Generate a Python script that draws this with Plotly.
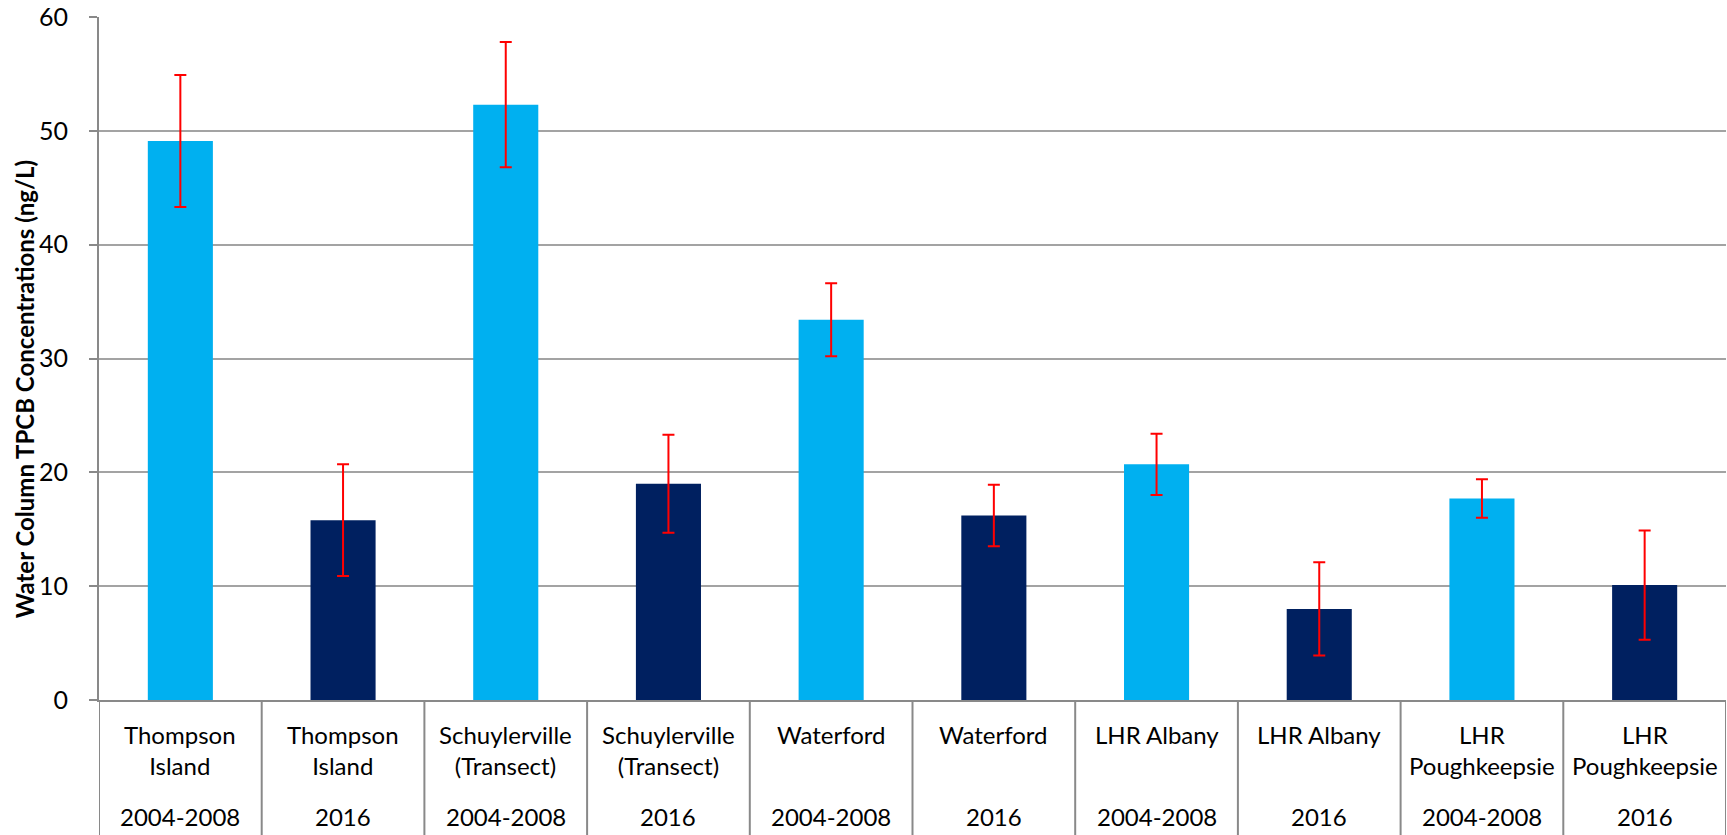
import plotly.graph_objects as go

# Sampling locations and periods for each bar
locations = [
    "Thompson<br>Island", "Thompson<br>Island",
    "Schuylerville<br>(Transect)", "Schuylerville<br>(Transect)",
    "Waterford", "Waterford",
    "LHR Albany", "LHR Albany",
    "LHR<br>Poughkeepsie", "LHR<br>Poughkeepsie",
]
periods = ["2004-2008", "2016"] * 5

# Mean water column TPCB concentrations (ng/L) and error bar half-widths
values = [49.1, 15.8, 52.3, 19.0, 33.4, 16.2, 20.7, 8.0, 17.7, 10.1]
errors = [5.8, 4.9, 5.5, 4.3, 3.2, 2.7, 2.7, 4.1, 1.7, 4.8]

y_ticks = [0, 10, 20, 30, 40, 50, 60]

period_colors = {"2004-2008": "#00B0F0", "2016": "#002060"}
FONT = "Lato, Carlito, Calibri, sans-serif"
AXIS_GREY = "#898989"
GRID_GREY = "#A3A3A3"

x_pos = list(range(len(values)))

fig = go.Figure(
    go.Bar(
        x=x_pos,
        y=values,
        width=0.4,
        marker=dict(color=[period_colors[p] for p in periods], line=dict(width=0)),
        error_y=dict(type="data", array=errors, visible=True,
                     color="#FF0000", thickness=2, width=6),
        showlegend=False,
    )
)

W, H = 1727, 835
M_L, M_R, M_T, M_B = 99, 1, 17, 135
plot_h = H - M_T - M_B

annotations = []
for i, (loc, per) in enumerate(zip(locations, periods)):
    annotations.append(dict(
        x=i, y=0, xref="x", yref="paper", text=loc, showarrow=False,
        xanchor="center", yanchor="top", yshift=-19, borderpad=0,
        font=dict(family=FONT, size=24, color="#000000"),
    ))
    annotations.append(dict(
        x=i, y=0, xref="x", yref="paper", text=per, showarrow=False,
        xanchor="center", yanchor="middle", yshift=-116, borderpad=0,
        font=dict(family=FONT, size=24, color="#000000"),
    ))

# y-axis title
annotations.append(dict(
    x=-75 / (W - M_L - M_R), y=0.455, xref="paper", yref="paper",
    text="<b>Water Column TPCB Concentrations (ng/L)</b>", textangle=-90,
    showarrow=False, xanchor="center", yanchor="middle",
    font=dict(family=FONT, size=24, color="#000000"),
))

# category divider lines below the axis
shapes = []
for i in range(len(values) + 1):
    shapes.append(dict(
        type="line", xref="x", yref="paper",
        x0=i - 0.5, x1=i - 0.5, y0=0, y1=-M_B / plot_h,
        line=dict(color=AXIS_GREY, width=2),
    ))

fig.update_layout(
    width=W, height=H,
    margin=dict(l=M_L, r=M_R, t=M_T, b=M_B, pad=0),
    paper_bgcolor="white", plot_bgcolor="white",
    bargap=0.6,
    annotations=annotations,
    shapes=shapes,
    font=dict(family=FONT, size=24, color="#000000"),
)
fig.update_xaxes(
    range=[-0.5, len(values) - 0.5],
    showticklabels=False, ticks="",
    showgrid=False, zeroline=False,
    showline=True, linecolor=AXIS_GREY, linewidth=2,
)
fig.update_yaxes(
    range=[0, 60], tickvals=y_ticks, ticktext=[str(t) for t in y_ticks],
    showgrid=True, gridcolor=GRID_GREY, gridwidth=1.5,
    zeroline=False,
    showline=True, linecolor=AXIS_GREY, linewidth=2,
    ticks="outside", ticklen=8, tickcolor=AXIS_GREY, tickwidth=2,
    ticklabelstandoff=16,
    tickfont=dict(family=FONT, size=25, color="#000000"),
)

fig.write_html("out.html")
